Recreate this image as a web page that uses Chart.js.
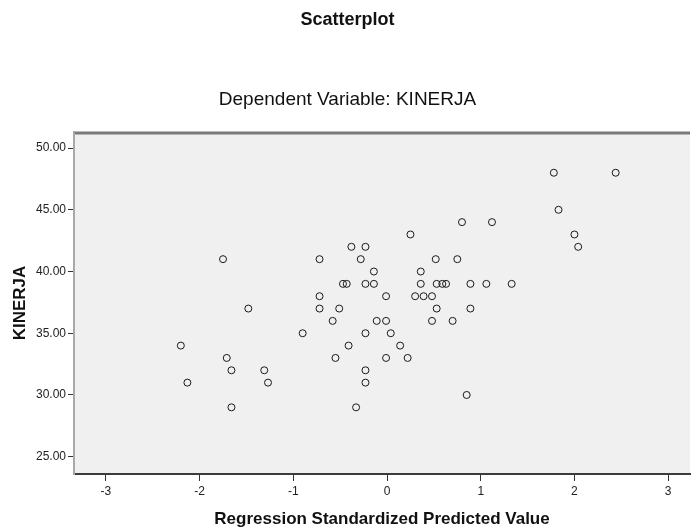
<!DOCTYPE html>
<html>
<head>
<meta charset="utf-8">
<script src="https://cdn.jsdelivr.net/npm/chart.js@4"></script>
<style>
  body { margin: 0; background: #fff; }
</style>
</head>
<body>
<canvas id="myChart" width="695" height="528"></canvas>
<script>
// regression standardized predicted value (x) and KINERJA (y), one pair per case
const predictedValue = [
  1.78, 2.44,
  1.83,
  0.80, 1.12,
  0.25, 2.00,
  -0.38, -0.23, 2.04,
  -1.75, -0.72, -0.28, 0.52, 0.75,
  -0.14, 0.36,
  -0.47, -0.43, -0.23, -0.14, 0.36, 0.53, 0.59, 0.63, 0.89, 1.06, 1.33,
  -0.72, -0.01, 0.30, 0.39, 0.48,
  -1.48, -0.72, -0.51, 0.53, 0.89,
  -0.58, -0.11, -0.01, 0.48, 0.70,
  -0.90, -0.23, 0.04,
  -2.20, -0.41, 0.14,
  -1.71, -0.55, -0.01, 0.22,
  -1.66, -1.31, -0.23,
  -2.13, -1.27, -0.23,
  0.85,
  -1.66, -0.33
];
const kinerja = [
  48, 48,
  45,
  44, 44,
  43, 43,
  42, 42, 42,
  41, 41, 41, 41, 41,
  40, 40,
  39, 39, 39, 39, 39, 39, 39, 39, 39, 39, 39,
  38, 38, 38, 38, 38,
  37, 37, 37, 37, 37,
  36, 36, 36, 36, 36,
  35, 35, 35,
  34, 34, 34,
  33, 33, 33, 33,
  32, 32, 32,
  31, 31, 31,
  30,
  29, 29
];

const chartTitle = 'Scatterplot';
const chartSubtitle = 'Dependent Variable: KINERJA';
const xTitle = 'Regression Standardized Predicted Value';
const yTitle = 'KINERJA';

const points = predictedValue.map((v, i) => ({ x: v, y: kinerja[i] }));

const fontFamily = 'Liberation Sans, Arial, sans-serif';

// grey plot background + heavy top frame line like SPSS
const plotFrame = {
  id: 'plotFrame',
  beforeDraw(chart) {
    const { ctx, chartArea: a } = chart;
    ctx.save();
    ctx.fillStyle = '#f0f0f0';
    ctx.fillRect(a.left, a.top, a.right - a.left, a.bottom - a.top);
    ctx.strokeStyle = '#7a7a7a';
    ctx.lineWidth = 3;
    ctx.beginPath();
    ctx.moveTo(a.left, a.top + 1);
    ctx.lineTo(a.right, a.top + 1);
    ctx.stroke();
    ctx.restore();
  }
};

const config = {
  type: 'scatter',
  data: {
    datasets: [{
      label: yTitle,
      data: points,
      pointStyle: 'circle',
      pointRadius: 3.5,
      pointBorderWidth: 1,
      borderColor: '#1a1a1a',
      backgroundColor: 'rgba(0,0,0,0)'
    }]
  },
  options: {
    responsive: false,
    animation: false,
    layout: { padding: 0 },
    plugins: {
      legend: { display: false },
      tooltip: { enabled: false },
      title: {
        display: true,
        text: chartTitle,
        color: '#111',
        font: { family: fontFamily, size: 18, weight: 'bold' },
        padding: { top: 9.2, bottom: 0 }
      },
      subtitle: {
        display: true,
        text: chartSubtitle,
        color: '#111',
        font: { family: fontFamily, size: 19 },
        padding: { top: 57.8, bottom: 20.6 }
      }
    },
    scales: {
      x: {
        type: 'linear',
        min: -3.34,
        max: 3.233,
        afterFit(scale) { scale.height = 54; },
        ticks: {
          stepSize: 1,
          includeBounds: false,
          padding: 3.8,
          color: '#222',
          font: { family: fontFamily, size: 12 },
          maxRotation: 0
        },
        grid: { drawOnChartArea: false, tickLength: 7, color: '#333' },
        border: { color: '#3c3c3c', width: 2 },
        title: {
          display: true,
          text: xTitle,
          color: '#111',
          font: { family: fontFamily, size: 17, weight: 'bold', lineHeight: 1 },
          padding: { top: 0, bottom: 0 }
        }
      },
      y: {
        type: 'linear',
        min: 23.6,
        max: 51.3,
        afterFit(scale) { scale.width = 74; },
        ticks: {
          stepSize: 5,
          includeBounds: false,
          padding: 2,
          color: '#222',
          font: { family: fontFamily, size: 12 },
          callback: v => v.toFixed(2)
        },
        grid: { drawOnChartArea: false, tickLength: 6, color: '#333' },
        border: { color: '#a8a8a8', width: 2 },
        title: {
          display: true,
          text: yTitle,
          color: '#111',
          font: { family: fontFamily, size: 17, weight: 'bold', lineHeight: 1 },
          padding: { top: 11.5, bottom: 0 }
        }
      }
    }
  },
  plugins: [plotFrame]
};

const myChart = new Chart(document.getElementById('myChart'), config);
</script>
</body>
</html>
